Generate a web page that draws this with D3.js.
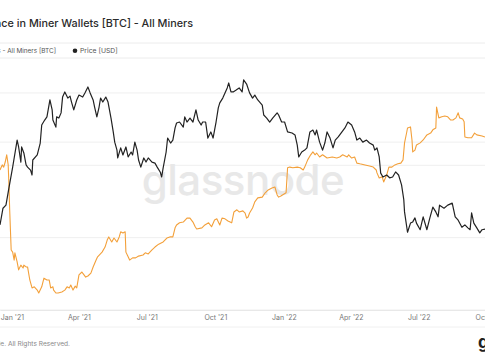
<!DOCTYPE html>
<html><head><meta charset="utf-8">
<script src="https://cdn.jsdelivr.net/npm/d3@7"></script>
<style>html,body{margin:0;padding:0;background:#fff;overflow:hidden}svg{display:block;font-family:Inter,"Noto Sans",sans-serif}</style>
</head><body><svg id="c" width="485" height="360"></svg>
<script>
const title = "Balance in Miner Wallets [BTC] - All Miners";
const legendLabels = ["Balance in Miner Wallets - All Miners [BTC]", "Price [USD]"];
const xTickDates = ["2021-01-01","2021-04-01","2021-07-01","2021-10-01","2022-01-01","2022-04-01","2022-07-01","2022-10-01"];
const balanceTicks = [1760000, 1780000, 1800000, 1820000];
const priceTicks = [40000];

const balance = [
["2020-12-16",1798700],["2020-12-19",1800100],["2020-12-21",1799500],["2020-12-23",1800900],["2020-12-25",1802900],
["2020-12-27",1800100],["2020-12-28",1794600],["2020-12-29",1787700],["2020-12-31",1776600],["2021-01-02",1776000],
["2021-01-04",1773800],["2021-01-05",1775800],["2021-01-08",1773300],["2021-01-10",1771100],["2021-01-13",1772400],
["2021-01-16",1771600],["2021-01-17",1772400],["2021-01-20",1771900],["2021-01-22",1771900],["2021-01-25",1768300],
["2021-01-28",1766100],["2021-01-31",1766400],["2021-02-04",1765500],["2021-02-06",1764700],["2021-02-10",1766400],
["2021-02-13",1768800],["2021-02-17",1768300],["2021-02-20",1768300],["2021-02-22",1766100],["2021-02-25",1766400],
["2021-02-26",1765500],["2021-03-01",1764700],["2021-03-04",1764700],["2021-03-09",1765000],["2021-03-13",1765500],
["2021-03-16",1766400],["2021-03-19",1766100],["2021-03-21",1766900],["2021-03-24",1765500],["2021-03-27",1766600],
["2021-03-29",1766100],["2021-04-01",1769700],["2021-04-05",1770500],["2021-04-06",1770200],["2021-04-10",1769100],
["2021-04-13",1769400],["2021-04-17",1770200],["2021-04-20",1771900],["2021-04-24",1773800],["2021-04-26",1774700],
["2021-05-02",1776000],["2021-05-06",1777400],["2021-05-09",1779400],["2021-05-11",1780200],["2021-05-15",1778800],
["2021-05-18",1779900],["2021-05-22",1778800],["2021-05-25",1780200],["2021-05-27",1781600],["2021-05-30",1781300],
["2021-06-02",1781600],["2021-06-03",1776000],["2021-06-06",1774700],["2021-06-08",1773800],["2021-06-12",1774400],
["2021-06-16",1774400],["2021-06-20",1774900],["2021-06-26",1775200],["2021-06-29",1775800],["2021-07-03",1775500],
["2021-07-08",1776600],["2021-07-12",1777400],["2021-07-17",1778200],["2021-07-23",1778800],["2021-07-28",1779900],
["2021-08-01",1780200],["2021-08-05",1780200],["2021-08-08",1782700],["2021-08-10",1783500],["2021-08-14",1784100],
["2021-08-19",1784300],["2021-08-24",1785400],["2021-08-28",1785400],["2021-09-01",1784300],["2021-09-04",1783000],
["2021-09-06",1782400],["2021-09-13",1782700],["2021-09-17",1783500],["2021-09-22",1784100],["2021-09-26",1783000],
["2021-09-30",1784900],["2021-10-03",1785200],["2021-10-07",1783500],["2021-10-10",1785400],["2021-10-14",1785200],
["2021-10-18",1784600],["2021-10-23",1784100],["2021-10-26",1787100],["2021-10-30",1787700],["2021-11-02",1787100],
["2021-11-07",1787400],["2021-11-10",1786800],["2021-11-12",1785400],["2021-11-14",1785700],["2021-11-16",1786800],
["2021-11-20",1788200],["2021-11-23",1789900],["2021-11-27",1791000],["2021-12-03",1791200],["2021-12-07",1792400],
["2021-12-11",1793200],["2021-12-16",1793700],["2021-12-20",1794000],["2021-12-23",1791800],["2021-12-25",1791200],
["2021-12-28",1791500],["2022-01-04",1792400],["2022-01-06",1799300],["2022-01-09",1799500],["2022-01-13",1799300],
["2022-01-19",1799500],["2022-01-23",1799300],["2022-01-27",1798700],["2022-01-29",1799500],["2022-02-02",1801500],
["2022-02-06",1802900],["2022-02-09",1803700],["2022-02-12",1802900],["2022-02-14",1803400],["2022-02-18",1802300],
["2022-02-22",1802900],["2022-02-28",1802000],["2022-03-07",1802300],["2022-03-13",1802000],["2022-03-17",1802300],
["2022-03-21",1802900],["2022-03-27",1802300],["2022-03-29",1802900],["2022-04-02",1802000],["2022-04-06",1802300],
["2022-04-09",1800600],["2022-04-13",1800400],["2022-04-20",1800100],["2022-04-26",1799800],["2022-05-01",1799500],
["2022-05-05",1798700],["2022-05-06",1797900],["2022-05-09",1796500],["2022-05-13",1796800],["2022-05-15",1795400],
["2022-05-19",1797300],["2022-05-22",1799500],["2022-05-26",1799500],["2022-05-30",1800100],["2022-06-03",1800400],
["2022-06-07",1800600],["2022-06-10",1801500],["2022-06-12",1806200],["2022-06-15",1809200],["2022-06-16",1810300],
["2022-06-20",1810600],["2022-06-22",1807000],["2022-06-23",1803700],["2022-06-26",1804200],["2022-06-28",1805600],
["2022-07-03",1806200],["2022-07-07",1807000],["2022-07-12",1808400],["2022-07-17",1808900],["2022-07-20",1809800],
["2022-07-24",1810300],["2022-07-25",1816100],["2022-07-28",1813100],["2022-08-01",1813400],["2022-08-05",1813600],
["2022-08-09",1813400],["2022-08-13",1812500],["2022-08-16",1812500],["2022-08-20",1813100],["2022-08-23",1814500],
["2022-08-25",1813100],["2022-08-29",1812800],["2022-08-31",1812000],["2022-09-01",1807800],["2022-09-05",1807600],
["2022-09-10",1807600],["2022-09-14",1808900],["2022-09-17",1808400],["2022-09-24",1808100],["2022-09-28",1807800]
];

const price = [
["2020-12-16",19900],["2020-12-20",22900],["2020-12-24",23500],["2020-12-28",27200],["2021-01-02",32400],
["2021-01-08",40700],["2021-01-10",38400],["2021-01-13",33800],["2021-01-14",38400],["2021-01-17",36500],
["2021-01-20",33000],["2021-01-22",32400],["2021-01-26",31600],["2021-01-28",30300],["2021-01-29",34400],
["2021-02-04",35900],["2021-02-08",39700],["2021-02-10",46200],["2021-02-14",48200],["2021-02-17",49500],
["2021-02-21",57100],["2021-02-24",52500],["2021-02-25",48200],["2021-03-01",45400],["2021-03-02",49500],
["2021-03-05",49000],["2021-03-08",51200],["2021-03-10",58500],["2021-03-13",61100],["2021-03-17",58000],
["2021-03-20",59000],["2021-03-22",56100],["2021-03-25",52500],["2021-03-29",57100],["2021-04-01",59500],
["2021-04-06",58500],["2021-04-09",60600],["2021-04-13",63700],["2021-04-16",60600],["2021-04-20",57100],
["2021-04-22",53800],["2021-04-25",49500],["2021-04-28",53800],["2021-04-30",58000],["2021-05-03",56100],
["2021-05-07",58500],["2021-05-10",56100],["2021-05-14",49000],["2021-05-17",43600],["2021-05-19",40000],
["2021-05-22",37400],["2021-05-23",35000],["2021-05-27",38100],["2021-05-30",35900],["2021-06-03",38400],
["2021-06-06",35300],["2021-06-10",36800],["2021-06-12",35900],["2021-06-15",40000],["2021-06-18",37400],
["2021-06-20",34400],["2021-06-23",32400],["2021-06-27",35000],["2021-06-30",33800],["2021-07-03",35000],
["2021-07-08",33800],["2021-07-12",33500],["2021-07-15",32400],["2021-07-19",31100],["2021-07-21",29800],
["2021-07-23",32200],["2021-07-27",36800],["2021-07-29",41400],["2021-08-02",39700],["2021-08-05",40700],
["2021-08-08",45100],["2021-08-10",47000],["2021-08-14",47400],["2021-08-19",45400],["2021-08-21",49500],
["2021-08-24",47400],["2021-08-28",49000],["2021-09-01",47400],["2021-09-05",52500],["2021-09-08",48200],
["2021-09-12",46200],["2021-09-14",47400],["2021-09-18",47400],["2021-09-21",41400],["2021-09-25",43600],
["2021-09-28",41400],["2021-10-02",47400],["2021-10-05",53400],["2021-10-07",55700],["2021-10-11",58000],
["2021-10-14",60600],["2021-10-17",63200],["2021-10-19",65900],["2021-10-22",61100],["2021-10-25",61100],
["2021-10-29",62100],["2021-11-02",63200],["2021-11-06",61100],["2021-11-08",67600],["2021-11-12",65300],
["2021-11-16",60600],["2021-11-20",58000],["2021-11-23",59500],["2021-11-27",57100],["2021-12-03",54700],
["2021-12-05",50300],["2021-12-09",49000],["2021-12-13",47400],["2021-12-17",49000],["2021-12-23",51200],
["2021-12-25",50300],["2021-12-29",47400],["2022-01-02",47400],["2022-01-06",43600],["2022-01-12",43200],
["2022-01-16",42500],["2022-01-19",39000],["2022-01-21",35300],["2022-01-25",36800],["2022-01-29",37400],
["2022-02-01",38100],["2022-02-05",43600],["2022-02-09",44300],["2022-02-12",42500],["2022-02-14",44300],
["2022-02-18",40000],["2022-02-22",37400],["2022-02-25",39700],["2022-02-28",43600],["2022-03-04",41400],
["2022-03-08",38100],["2022-03-11",40700],["2022-03-15",41800],["2022-03-20",43600],["2022-03-24",45100],
["2022-03-28",47400],["2022-04-02",46200],["2022-04-06",43600],["2022-04-09",40700],["2022-04-13",41400],
["2022-04-17",40000],["2022-04-22",40700],["2022-04-26",39700],["2022-05-01",39000],["2022-05-03",37400],
["2022-05-06",38100],["2022-05-09",35300],["2022-05-11",30800],["2022-05-14",29800],["2022-05-19",30300],
["2022-05-23",29600],["2022-05-27",29800],["2022-05-31",31100],["2022-06-04",30300],["2022-06-08",27900],
["2022-06-11",24600],["2022-06-12",22200],["2022-06-16",18700],["2022-06-20",20200],["2022-06-23",20400],
["2022-06-26",21100],["2022-06-28",20200],["2022-07-03",19100],["2022-07-07",21300],["2022-07-12",19100],
["2022-07-16",21100],["2022-07-20",23100],["2022-07-24",22200],["2022-07-27",21300],["2022-07-29",23500],
["2022-08-04",22900],["2022-08-09",23500],["2022-08-15",23900],["2022-08-19",21300],["2022-08-23",20700],
["2022-08-28",19500],["2022-09-01",19900],["2022-09-05",19400],["2022-09-08",19100],["2022-09-10",22000],
["2022-09-13",20200],["2022-09-17",19400],["2022-09-21",18600],["2022-09-24",19100],["2022-09-28",19200]
];

const parse = d3.utcParse("%Y-%m-%d");
const svg = d3.select("#c");
const W = 485, plotTop = 60, plotBottom = 310;

const x = d3.scaleUtc().domain([parse("2020-12-16"), parse("2022-09-28")]).range([0, W]);
const yB = d3.scaleLinear().domain([1760000, 1829100]).range([plotBottom, plotTop]);
const yP = d3.scaleLog().domain([9700, 80000]).range([plotBottom, plotTop]);

// title
svg.append("text").attr("x", 193).attr("y", 27).attr("text-anchor", "end")
  .attr("font-size", 10.8).attr("font-weight", 500).attr("fill", "#2b2b2b").text(title);

// legend band
svg.append("line").attr("x1",0).attr("x2",W).attr("y1",43).attr("y2",43).attr("stroke","#ececec");
svg.append("line").attr("x1",0).attr("x2",W).attr("y1",58).attr("y2",58).attr("stroke","#ececec");
svg.append("text").attr("x", 56).attr("y", 53.2).attr("text-anchor","end").attr("font-size", 6.4).attr("fill","#555").text(legendLabels[0]);
svg.append("circle").attr("cx", 75).attr("cy", 50.8).attr("r", 2.3).attr("fill", "#222");
svg.append("text").attr("x", 80).attr("y", 53.2).attr("font-size", 6.8).attr("fill","#555").text(legendLabels[1]);

// gridlines
const grid = svg.append("g");
grid.selectAll("line.b").data(balanceTicks).join("line").attr("class","b")
  .attr("x1",0).attr("x2",W).attr("y1",d=>yB(d)).attr("y2",d=>yB(d)).attr("stroke","#efefef");
grid.selectAll("line.p").data(priceTicks).join("line").attr("class","p")
  .attr("x1",0).attr("x2",W).attr("y1",d=>yP(d)).attr("y2",d=>yP(d)).attr("stroke","#efefef");

// watermark
svg.append("text").attr("x", 243).attr("y", 195).attr("text-anchor","middle")
  .attr("font-size", 42).attr("font-weight", 500).attr("fill", "#e8e8e8").attr("letter-spacing", -0.5).text("glassnode");

// x axis
const xAxis = d3.axisBottom(x).tickValues(xTickDates.map(parse)).tickSize(0).tickPadding(5)
  .tickFormat(d3.utcFormat("%b '%y"));
const gx = svg.append("g").attr("transform", `translate(0,${plotBottom})`).call(xAxis);
gx.select(".domain").attr("stroke", "#e8e8e8");
gx.selectAll("text").attr("font-size", 7).attr("fill", "#777").attr("font-family", "Inter, sans-serif");
svg.append("line").attr("x1",0).attr("x2",W).attr("y1",327).attr("y2",327).attr("stroke","#f0f0f0");

// lines
const lineB = d3.line().x(d=>x(parse(d[0]))).y(d=>yB(d[1]));
const lineP = d3.line().x(d=>x(parse(d[0]))).y(d=>yP(d[1]));
svg.append("path").datum(balance).attr("d", lineB).attr("fill","none").attr("stroke","#f3a03a").attr("stroke-width",1.1).attr("stroke-linejoin","round");
svg.append("path").datum(price).attr("d", lineP).attr("fill","none").attr("stroke","#222").attr("stroke-width",1.2).attr("stroke-linejoin","round");

// footer
svg.append("text").attr("x", 70).attr("y", 346).attr("text-anchor","end").attr("font-size", 6.6).attr("fill","#888")
  .text("© 2022 Glassnode. All Rights Reserved.");
svg.append("text").attr("x", 478).attr("y", 348).attr("font-size", 17).attr("font-weight", 700).attr("fill","#222").text("glassnode");
</script></body></html>
